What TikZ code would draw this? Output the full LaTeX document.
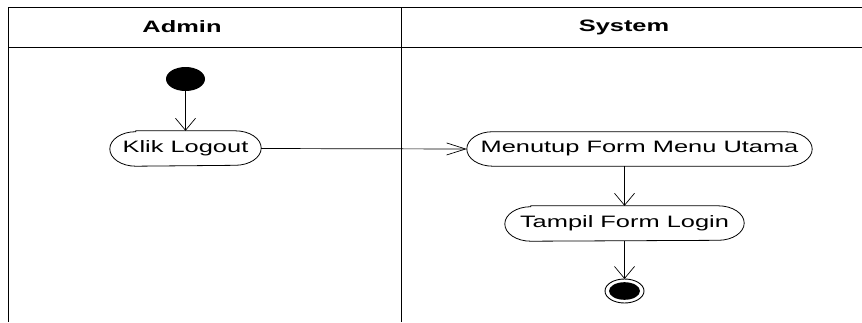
\documentclass[tikz,border=0pt]{standalone}
\usepackage{graphicx}
\usepackage{fontspec}
\setmainfont{Liberation Sans}
\usetikzlibrary{arrows.meta}
\newcommand\hstretch[1]{\scalebox{1.54}[1]{#1}}
\tikzset{
  lane/.style={line width=1pt, black},
  act/.style={draw=none, inner sep=0pt, font=\fontsize{16.5}{18}\selectfont},
  hdr/.style={inner sep=0pt, font=\fontsize{16.5}{18}\selectfont\bfseries},
  outline/.style={line width=0.8pt},
  flowv/.style={line width=0.7pt, -{Straight Barb[length=12pt,width=20pt,line width=0.7pt]}},
  flowh/.style={line width=0.7pt, -{Straight Barb[length=19pt,width=12pt,line width=0.7pt]}},
}
\begin{document}
\begin{tikzpicture}[x=1pt,y=1pt]
\useasboundingbox (0,0) rectangle (862,-322);
% swimlanes
\draw[lane] (862,-7.5) -- (8,-7.5) -- (8,-322);
\draw[lane] (8,-47) -- (862,-47);
\draw[lane] (401,-7.5) -- (401,-322);
\node[hdr] (hadmin) at (182,-27) {\hstretch{Admin}};
\node[hdr] (hsys) at (624,-27) {\hstretch{System}};
% nodes
\fill (185.5,-79) ellipse[x radius=19.5, y radius=12];
\coordinate (start) at (185.5,-91);
\node[act, minimum width=151pt, minimum height=35pt] (klik) at (185.5,-148.5) {\hstretch{Klik Logout}};
\node[act, minimum width=345pt, minimum height=34pt] (menutup) at (639.5,-149) {\hstretch{Menutup Form Menu Utama}};
\node[act, minimum width=239pt, minimum height=35pt] (tampil) at (624.5,-223.5) {\hstretch{Tampil Form Login}};
\foreach \n in {klik,menutup,tampil}{
  \draw[outline] ([xshift=26pt]\n.north west) -- ([xshift=-26pt]\n.north east)
    arc[start angle=90,end angle=-90,x radius=26pt,y radius=17.25pt]
    -- ([xshift=26pt]\n.south west)
    arc[start angle=270,end angle=90,x radius=26pt,y radius=17.25pt] -- cycle;
}
\draw[line width=0.9pt] (624.5,-291) ellipse[x radius=19.5, y radius=12];
\fill (624.5,-291) ellipse[x radius=15.5, y radius=8.8];
\coordinate (endn) at (624.5,-279);
% connectors
\draw[flowv] (start) -- (klik.north);
\draw[flowh] (klik.east) -- (menutup.west);
\draw[flowv] (tampil.north |- menutup.south) -- (tampil.north);
\draw[flowv] (tampil.south) -- (endn);
\end{tikzpicture}
\end{document}
